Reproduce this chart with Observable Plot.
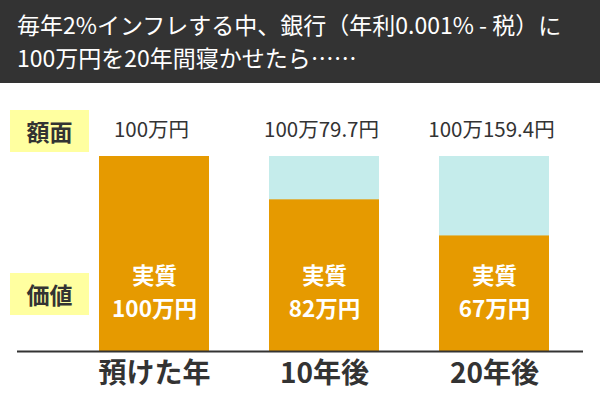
<!DOCTYPE html>
<html><head><meta charset="utf-8">
<script src="https://cdn.jsdelivr.net/npm/d3@7"></script>
<script src="https://cdn.jsdelivr.net/npm/@observablehq/plot@0.6"></script>
<style>
html,body{margin:0;padding:0;background:#fff;}
body{width:600px;height:400px;overflow:hidden;font-family:"Noto Sans CJK JP","Noto Sans",sans-serif;}
#head{background:#333;color:#fff;height:83px;box-sizing:border-box;padding:8px 0 0 17px;font-size:23px;line-height:33px;white-space:nowrap;}
#wrap{position:relative;width:600px;height:317px;}
.tag{position:absolute;left:10px;width:79px;height:42px;background:#FFFFA0;color:#333;font-weight:bold;font-size:23px;line-height:42px;text-align:center;}
</style></head>
<body>
<div id="head">毎年2%インフレする中、銀行（年利0.001% - 税）に<br>100万円を20年間寝かせたら……</div>
<div id="wrap"></div>
<script>
const categories = ["預けた年", "10年後", "20年後"];
const faceValue = [100, 100, 100];
const realValue = [100, 82, 67];
const faceLabels = ["100万円", "100万79.7円", "100万159.4円"];
const realPrefix = ["実質", "実質", "実質"];
const realLabels = ["100万円", "82万円", "67万円"];
const tagLabels = ["額面", "価値"];

const data = categories.map((c, i) => ({cat: c, face: faceValue[i], real: realValue[i], faceLabel: faceLabels[i], prefix: realPrefix[i], realLabel: realLabels[i]}));
const base = 19;

const chart = Plot.plot({
  width: 600,
  height: 317,
  marginTop: 73,
  marginBottom: 49,
  marginLeft: 17,
  marginRight: 17,
  style: {fontFamily: '"Noto Sans CJK JP", sans-serif', background: "transparent"},
  x: {domain: categories, range: [98, 549], paddingInner: 0.355, paddingOuter: 0, axis: null},
  y: {domain: [base, 100], axis: null},
  marks: [
    Plot.barY(data, {x: "cat", y1: base, y2: "face", fill: "#C5ECEB"}),
    Plot.barY(data, {x: "cat", y1: base, y2: "real", fill: "#E69A00"}),
    Plot.ruleY([base], {stroke: "#333", strokeWidth: 2}),
    Plot.text(data, {x: "cat", text: "faceLabel", frameAnchor: "top", dy: -26, dx: -3, fontSize: 20.5, fill: "#333", lineAnchor: "middle"}),
    Plot.text(data, {x: "cat", text: "prefix", frameAnchor: "bottom", dy: -75, fontSize: 22.5, fontWeight: "bold", fill: "#fff", lineAnchor: "middle"}),
    Plot.text(data, {x: "cat", text: "realLabel", frameAnchor: "bottom", dy: -42, fontSize: 22.5, fontWeight: "bold", fill: "#fff", lineAnchor: "middle"}),
    Plot.text(data, {x: "cat", text: "cat", frameAnchor: "bottom", dy: 23, fontSize: 28, fontWeight: "bold", fill: "#333", lineAnchor: "middle"})
  ]
});
const wrap = document.getElementById("wrap");
wrap.appendChild(chart);
const tops = [27, 190];
tagLabels.forEach((t, i) => {
  const d = document.createElement("div");
  d.className = "tag";
  d.style.top = tops[i] + "px";
  d.textContent = t;
  wrap.appendChild(d);
});
</script>
</body></html>
